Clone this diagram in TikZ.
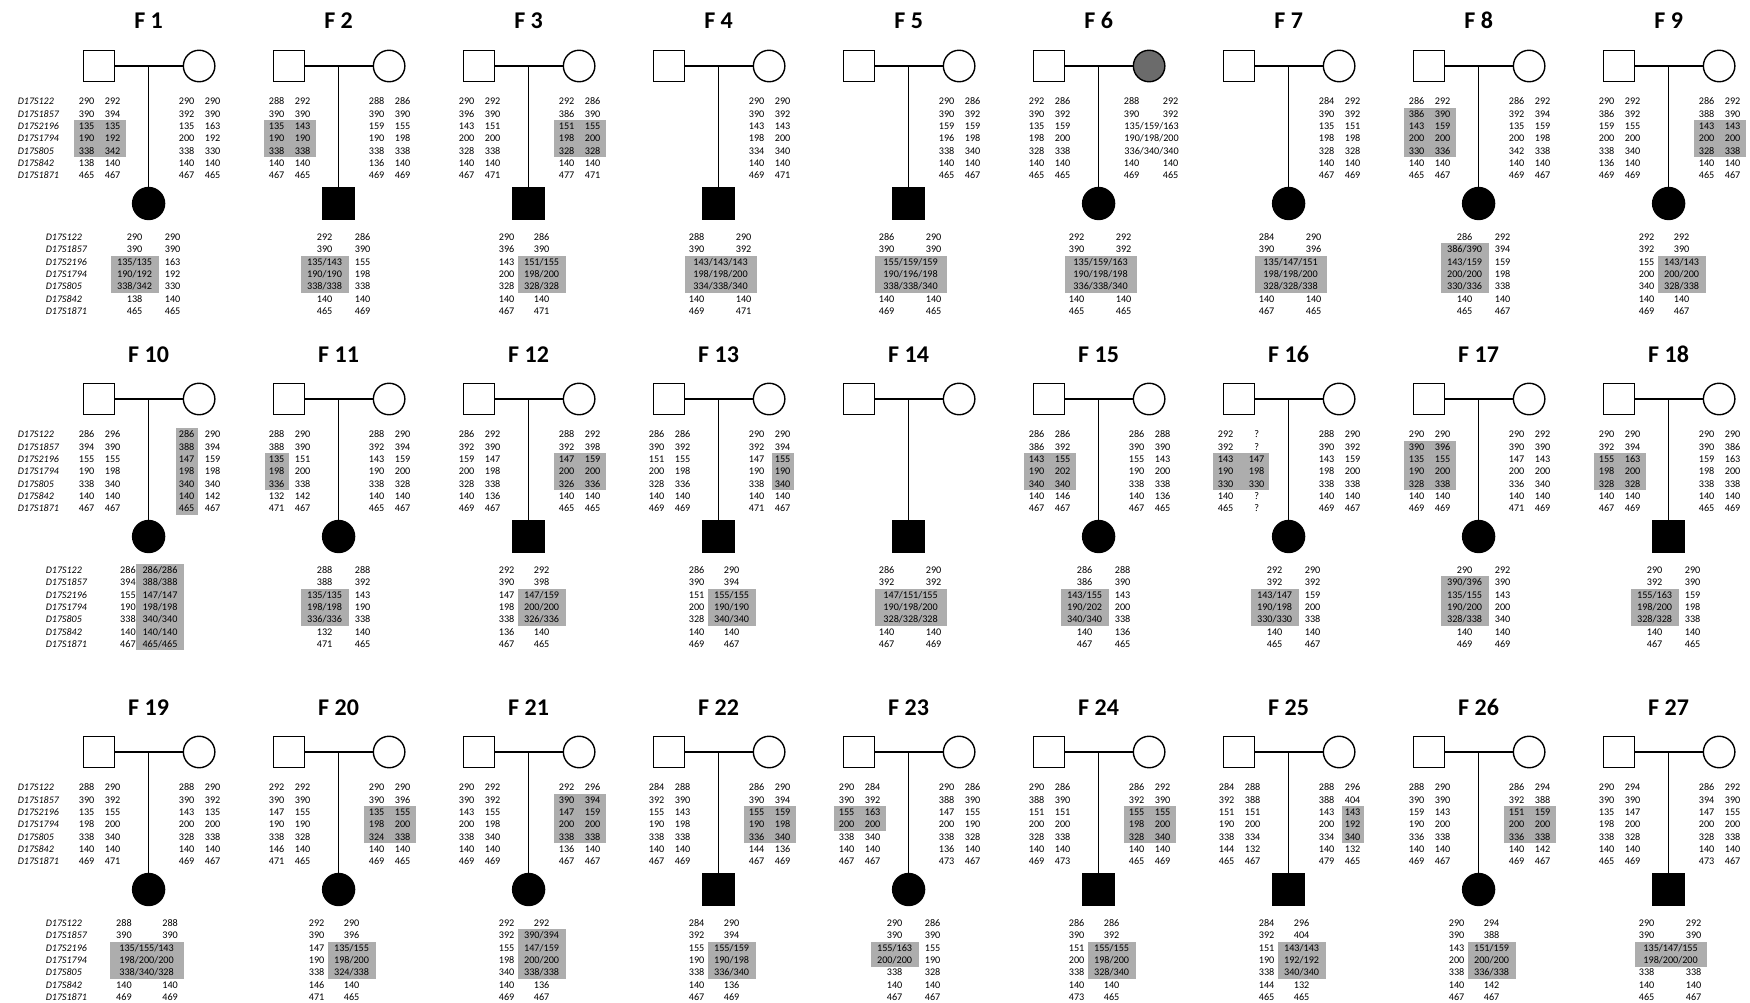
\documentclass[tikz,border=0pt]{standalone}
\usepackage{fontspec}
\setmainfont{Carlito}
\protected\def\slsh{/}
\tikzset{
 num/.style={font=\fontsize{10.2}{11}\selectfont, inner sep=0pt, anchor=center, text height=6.5pt, text depth=0pt},
 lab/.style={font=\fontsize{10}{11}\selectfont\itshape, inner sep=0pt, anchor=west, text height=6.5pt, text depth=0pt},
 ttl/.style={font=\fontsize{24}{28}\selectfont\bfseries, inner sep=0pt, anchor=base},
 fa/.style={draw, rectangle, minimum size=31.5pt, inner sep=0pt, line width=1.4pt},
 mo/.style={draw, circle, minimum size=31.5pt, inner sep=0pt, line width=1.4pt},
 mogray/.style={mo, fill=black!58},
 chsq/.style={fa, fill=black, minimum size=32pt},
 chci/.style={mo, fill=black, minimum size=32pt},
 ln/.style={line width=1.4pt},
 shd/.style={fill=black!32},
}
% generic rows
\newcommand\prow[6]{%
  \foreach \a/\b [count=\k from #5] in {#6}{%
    \node[num] (#1-\k-a) at ({#2},{#4+12.3*(\k-1)}) {\a};
    \node[num] (#1-\k-b) at ({#3},{#4+12.3*(\k-1)}) {\b};
  }}
\newcommand\srow[5]{%
  \foreach \a [count=\k from #4] in {#5}{%
    \node[num] (#1-\k-s) at ({#2},{#3+12.3*(\k-1)}) {\a};
  }}
\newcommand\fdat[4]{\prow{#1-f}{#2-62}{#2-36}{#3+101.7}{1}{#4}}
\newcommand\mdat[4]{\prow{#1-m}{#2+38}{#2+64}{#3+101.7}{1}{#4}}
\newcommand\cA[4]{\prow{#1-c}{#2-14}{#2+24}{#3+237.3}{1}{#4}}
\newcommand\cB[4]{\prow{#1-c}{#2-22}{#2+13}{#3+237.3}{1}{#4}}
\newcommand\cpair[5]{\prow{#1-c}{#2-22}{#2+25}{#3+237.3}{#4}{#5}}
\newcommand\ctrip[5]{\srow{#1-ct}{#2+2}{#3+237.3}{#4}{#5}}
% shades
\newcommand\shd[5]{\fill[shd] ({#1},{#3+12.3*(#4-1)-6.3}) rectangle ({#2},{#3+12.3*(#5-1)+6.3});}
\newcommand\shF[4]{\shd{#1-75}{#1-23}{#2+101.7}{#3}{#4}}
\newcommand\shFa[4]{\shd{#1-74}{#1-50}{#2+101.7}{#3}{#4}}
\newcommand\shM[4]{\shd{#1+25}{#1+77}{#2+101.7}{#3}{#4}}
\newcommand\shMa[4]{\shd{#1+27}{#1+49}{#2+101.7}{#3}{#4}}
\newcommand\shMb[4]{\shd{#1+53}{#1+75}{#2+101.7}{#3}{#4}}
\newcommand\shCa[4]{\shd{#1-38}{#1+10}{#2+237.3}{#3}{#4}}
\newcommand\shCb[4]{\shd{#1-11}{#1+37}{#2+237.3}{#3}{#4}}
\newcommand\shCt[4]{\shd{#1-34}{#1+38}{#2+237.3}{#3}{#4}}
% marker labels
\newcommand\labs[3]{%
  \foreach \m [count=\k] in {D17S122,D17S1857,D17S2196,D17S1794,D17S805,D17S842,D17S1871}{%
    \node[lab] (#1-\k) at ({#2},{#3+12.3*(\k-1)}) {\m};}}
% pedigree frame
\newcommand\pedi[6]{%
  \node[ttl] (#1-t) at ({#2},{#3+29}) {#4};
  \node[fa] (#1-fa) at ({#2-49.6},{#3+66}) {};
  \node[#6] (#1-mo) at ({#2+50.5},{#3+66}) {};
  \coordinate (#1-mid) at ({#2},{#3+66});
  \node[#5] (#1-ch) at ({#2},{#3+203.5}) {};
  \draw[ln] (#1-fa) -- (#1-mo);
  \draw[ln] (#1-mid) -- (#1-ch);}
\begin{document}
\begin{tikzpicture}[x=1pt,y=-1pt]
\fill[white] (0,0) rectangle (1750,1003);
\useasboundingbox (0,0) rectangle (1750,1003);

% ================= ROW 1 =================
% F1
\shF{148.6}{0}{3}{5}\shCa{148.6}{0}{3}{5}
\pedi{f1}{148.6}{0}{F 1}{chci}{mo}
\labs{f1-lf}{148.6-131}{101.7}
\labs{f1-lc}{148.6-103}{237.3}
\fdat{f1}{148.6}{0}{290/292,390/394,135/135,190/192,338/342,138/140,465/467}
\mdat{f1}{148.6}{0}{290/290,392/390,135/163,200/192,338/330,140/140,467/465}
\cA{f1}{148.6}{0}{290/290,390/390,135\slsh135/163,190\slsh192/192,338\slsh342/330,138/140,465/465}

% F2
\shF{338.6}{0}{3}{5}\shCa{338.6}{0}{3}{5}
\pedi{f2}{338.6}{0}{F 2}{chsq}{mo}
\fdat{f2}{338.6}{0}{288/292,390/390,135/143,190/190,338/338,140/140,467/465}
\mdat{f2}{338.6}{0}{288/286,390/390,159/155,190/198,338/338,136/140,469/469}
\cA{f2}{338.6}{0}{292/286,390/390,135\slsh143/155,190\slsh190/198,338\slsh338/338,140/140,465/469}

% F3
\shM{528.6}{0}{3}{5}\shCb{528.6}{0}{3}{5}
\pedi{f3}{528.6}{0}{F 3}{chsq}{mo}
\fdat{f3}{528.6}{0}{290/292,396/390,143/151,200/200,328/338,140/140,467/471}
\mdat{f3}{528.6}{0}{292/286,386/390,151/155,198/200,328/328,140/140,477/471}
\cB{f3}{528.6}{0}{290/286,396/390,143/151\slsh155,200/198\slsh200,328/328\slsh328,140/140,467/471}

% F4
\shCt{718.6}{0}{3}{5}
\pedi{f4}{718.6}{0}{F 4}{chsq}{mo}
\mdat{f4}{718.6}{0}{290/290,390/392,143/143,198/200,334/340,140/140,469/471}
\cpair{f4}{718.6}{0}{1}{288/290,390/392}
\ctrip{f4}{718.6}{0}{3}{143\slsh143\slsh143,198\slsh198\slsh200,334\slsh338\slsh340}
\cpair{f4}{718.6}{0}{6}{140/140,469/471}

% F5
\shCt{908.6}{0}{3}{5}
\pedi{f5}{908.6}{0}{F 5}{chsq}{mo}
\mdat{f5}{908.6}{0}{290/286,390/392,159/159,196/198,338/340,140/140,465/467}
\cpair{f5}{908.6}{0}{1}{286/290,390/390}
\ctrip{f5}{908.6}{0}{3}{155\slsh159\slsh159,190\slsh196\slsh198,338\slsh338\slsh340}
\cpair{f5}{908.6}{0}{6}{140/140,469/465}

% F6
\shCt{1098.6}{0}{3}{5}
\pedi{f6}{1098.6}{0}{F 6}{chci}{mogray}
\fdat{f6}{1098.6}{0}{292/286,390/392,135/159,198/200,328/338,140/140,465/465}
\prow{f6-m}{1098.6+33}{1098.6+72}{101.7}{1}{288/292,390/392}
\srow{f6-mt}{1098.6+53}{101.7}{3}{135\slsh159\slsh163,190\slsh198\slsh200,336\slsh340\slsh340}
\prow{f6-m}{1098.6+33}{1098.6+72}{101.7}{6}{140/140,469/465}
\cpair{f6}{1098.6}{0}{1}{292/292,390/392}
\ctrip{f6}{1098.6}{0}{3}{135\slsh159\slsh163,190\slsh198\slsh198,336\slsh338\slsh340}
\cpair{f6}{1098.6}{0}{6}{140/140,465/465}

% F7
\shCt{1288.6}{0}{3}{5}
\pedi{f7}{1288.6}{0}{F 7}{chci}{mo}
\mdat{f7}{1288.6}{0}{284/292,390/392,135/151,198/198,328/328,140/140,467/469}
\cpair{f7}{1288.6}{0}{1}{284/290,390/396}
\ctrip{f7}{1288.6}{0}{3}{135\slsh147\slsh151,198\slsh198\slsh200,328\slsh328\slsh338}
\cpair{f7}{1288.6}{0}{6}{140/140,467/465}

% F8
\shF{1478.6}{0}{2}{5}\shCa{1478.6}{0}{2}{5}
\pedi{f8}{1478.6}{0}{F 8}{chci}{mo}
\fdat{f8}{1478.6}{0}{286/292,386/390,143/159,200/200,330/336,140/140,465/467}
\mdat{f8}{1478.6}{0}{286/292,392/394,135/159,200/198,342/338,140/140,469/467}
\cA{f8}{1478.6}{0}{286/292,386\slsh390/394,143\slsh159/159,200\slsh200/198,330\slsh336/338,140/140,465/467}

% F9
\shM{1668.6}{0}{3}{5}\shCb{1668.6}{0}{3}{5}
\pedi{f9}{1668.6}{0}{F 9}{chci}{mo}
\fdat{f9}{1668.6}{0}{290/292,386/392,159/155,200/200,338/340,136/140,469/469}
\mdat{f9}{1668.6}{0}{286/292,388/390,143/143,200/200,328/338,140/140,465/467}
\cB{f9}{1668.6}{0}{292/292,392/390,155/143\slsh143,200/200\slsh200,340/328\slsh338,140/140,469/467}

% ================= ROW 2 =================
% F10
\shMa{148.6}{333}{1}{7}\shd{148.6-12.6}{148.6+35}{333+237.3}{1}{7}
\pedi{f10}{148.6}{333}{F 10}{chci}{mo}
\labs{f10-lf}{148.6-131}{333+101.7}
\labs{f10-lc}{148.6-103}{333+237.3}
\fdat{f10}{148.6}{333}{286/296,394/390,155/155,190/198,338/340,140/140,467/467}
\mdat{f10}{148.6}{333}{286/290,388/394,147/159,198/198,340/340,140/142,465/467}
\prow{f10-c}{148.6-20.6}{148.6+11.4}{333+237.3}{1}{286/286\slsh286,394/388\slsh388,155/147\slsh147,190/198\slsh198,338/340\slsh340,140/140\slsh140,467/465\slsh465}

% F11
\shFa{338.6}{333}{3}{5}\shCa{338.6}{333}{3}{5}
\pedi{f11}{338.6}{333}{F 11}{chci}{mo}
\fdat{f11}{338.6}{333}{288/290,388/390,135/151,198/200,336/338,132/142,471/467}
\mdat{f11}{338.6}{333}{288/290,392/394,143/159,190/200,338/328,140/140,465/467}
\cA{f11}{338.6}{333}{288/288,388/392,135\slsh135/143,198\slsh198/190,336\slsh336/338,132/140,471/465}

% F12
\shM{528.6}{333}{3}{5}\shCb{528.6}{333}{3}{5}
\pedi{f12}{528.6}{333}{F 12}{chsq}{mo}
\fdat{f12}{528.6}{333}{286/292,392/390,159/147,200/198,328/338,140/136,469/467}
\mdat{f12}{528.6}{333}{288/292,392/398,147/159,200/200,326/336,140/140,465/465}
\cB{f12}{528.6}{333}{292/292,390/398,147/147\slsh159,198/200\slsh200,338/326\slsh336,136/140,467/465}

% F13
\shMb{718.6}{333}{3}{5}\shCb{718.6}{333}{3}{5}
\pedi{f13}{718.6}{333}{F 13}{chsq}{mo}
\fdat{f13}{718.6}{333}{286/286,390/392,151/155,200/198,328/336,140/140,469/469}
\mdat{f13}{718.6}{333}{290/290,392/394,147/155,190/190,338/340,140/140,471/467}
\cB{f13}{718.6}{333}{286/290,390/394,151/155\slsh155,200/190\slsh190,328/340\slsh340,140/140,469/467}

% F14
\shCt{908.6}{333}{3}{5}
\pedi{f14}{908.6}{333}{F 14}{chsq}{mo}
\cpair{f14}{908.6}{333}{1}{286/290,392/392}
\ctrip{f14}{908.6}{333}{3}{147\slsh151\slsh155,190\slsh198\slsh200,328\slsh328\slsh328}
\cpair{f14}{908.6}{333}{6}{140/140,467/469}

% F15
\shF{1098.6}{333}{3}{5}\shCa{1098.6}{333}{3}{5}
\pedi{f15}{1098.6}{333}{F 15}{chci}{mo}
\fdat{f15}{1098.6}{333}{286/286,386/392,143/155,190/202,340/340,140/146,467/467}
\mdat{f15}{1098.6}{333}{286/288,390/390,155/143,190/200,338/338,140/136,467/465}
\cA{f15}{1098.6}{333}{286/288,386/390,143\slsh155/143,190\slsh202/200,340\slsh340/338,140/136,467/465}

% F16
\shd{1288.6-76}{1288.6-20}{333+101.7}{3}{5}\shCa{1288.6}{333}{3}{5}
\pedi{f16}{1288.6}{333}{F 16}{chci}{mo}
\prow{f16-f}{1288.6-63}{1288.6-32}{333+101.7}{1}{292/?,392/?,143/147,190/198,330/330,140/?,465/?}
\mdat{f16}{1288.6}{333}{288/290,390/392,143/159,198/200,338/338,140/140,469/467}
\cA{f16}{1288.6}{333}{292/290,392/392,143\slsh147/159,190\slsh198/200,330\slsh330/338,140/140,465/467}

% F17
\shF{1478.6}{333}{2}{5}\shCa{1478.6}{333}{2}{5}
\pedi{f17}{1478.6}{333}{F 17}{chci}{mo}
\fdat{f17}{1478.6}{333}{290/290,390/396,135/155,190/200,328/338,140/140,469/469}
\mdat{f17}{1478.6}{333}{290/292,390/390,147/143,200/200,336/340,140/140,471/469}
\cA{f17}{1478.6}{333}{290/292,390\slsh396/390,135\slsh155/143,190\slsh200/200,328\slsh338/340,140/140,469/469}

% F18
\shF{1668.6}{333}{3}{5}\shCa{1668.6}{333}{3}{5}
\pedi{f18}{1668.6}{333}{F 18}{chsq}{mo}
\fdat{f18}{1668.6}{333}{290/290,392/394,155/163,198/200,328/328,140/140,467/469}
\mdat{f18}{1668.6}{333}{290/290,390/386,159/163,198/200,338/338,140/140,465/469}
\cA{f18}{1668.6}{333}{290/290,392/390,155\slsh163/159,198\slsh200/198,328\slsh328/338,140/140,467/465}

% ================= ROW 3 =================
% F19
\shd{148.6-38.6}{148.6+35.7}{686+237.3}{3}{5}
\pedi{f19}{148.6}{686}{F 19}{chci}{mo}
\labs{f19-lf}{148.6-131}{686+101.7}
\labs{f19-lc}{148.6-103}{686+237.3}
\fdat{f19}{148.6}{686}{288/290,390/392,135/155,198/200,338/340,140/140,469/471}
\mdat{f19}{148.6}{686}{288/290,390/392,143/135,200/200,328/338,140/140,469/467}
\prow{f19-c}{148.6-24.6}{148.6+21.5}{686+237.3}{1}{288/288,390/390}
\srow{f19-ct}{148.6-2}{686+237.3}{3}{135\slsh155\slsh143,198\slsh200\slsh200,338\slsh340\slsh328}
\prow{f19-c}{148.6-24.6}{148.6+21.5}{686+237.3}{6}{140/140,469/469}

% F20
\shM{338.6}{686}{3}{5}\shCb{338.6}{686}{3}{5}
\pedi{f20}{338.6}{686}{F 20}{chci}{mo}
\fdat{f20}{338.6}{686}{292/292,390/390,147/155,190/190,338/328,146/140,471/465}
\mdat{f20}{338.6}{686}{290/290,390/396,135/155,198/200,324/338,140/140,469/465}
\cB{f20}{338.6}{686}{292/290,390/396,147/135\slsh155,190/198\slsh200,338/324\slsh338,146/140,471/465}

% F21
\shM{528.6}{686}{2}{5}\shCb{528.6}{686}{2}{5}
\pedi{f21}{528.6}{686}{F 21}{chci}{mo}
\fdat{f21}{528.6}{686}{290/292,390/392,143/155,200/198,338/340,140/140,469/469}
\mdat{f21}{528.6}{686}{292/296,390/394,147/159,200/200,338/338,136/140,467/467}
\cB{f21}{528.6}{686}{292/292,392/390\slsh394,155/147\slsh159,198/200\slsh200,340/338\slsh338,140/136,469/467}

% F22
\shM{718.6}{686}{3}{5}\shCb{718.6}{686}{3}{5}
\pedi{f22}{718.6}{686}{F 22}{chsq}{mo}
\fdat{f22}{718.6}{686}{284/288,392/390,155/143,190/198,338/338,140/140,467/469}
\mdat{f22}{718.6}{686}{286/290,390/394,155/159,190/198,336/340,144/136,467/469}
\cB{f22}{718.6}{686}{284/290,392/394,155/155\slsh159,190/190\slsh198,338/336\slsh340,140/136,467/469}

% F23
\shF{908.6}{686}{3}{4}\shCa{908.6}{686}{3}{4}
\pedi{f23}{908.6}{686}{F 23}{chci}{mo}
\fdat{f23}{908.6}{686}{290/284,390/392,155/163,200/200,338/340,140/140,467/467}
\mdat{f23}{908.6}{686}{290/286,388/390,147/155,200/190,338/328,136/140,473/467}
\cA{f23}{908.6}{686}{290/286,390/390,155\slsh163/155,200\slsh200/190,338/328,140/140,467/467}

% F24
\shM{1098.6}{686}{3}{5}\shCb{1098.6}{686}{3}{5}
\pedi{f24}{1098.6}{686}{F 24}{chsq}{mo}
\fdat{f24}{1098.6}{686}{290/286,388/390,151/151,200/200,328/338,140/140,469/473}
\mdat{f24}{1098.6}{686}{286/292,392/390,155/155,198/200,328/340,140/140,465/469}
\cB{f24}{1098.6}{686}{286/286,390/392,151/155\slsh155,200/198\slsh200,338/328\slsh340,140/140,473/465}

% F25
\shMb{1288.6}{686}{3}{5}\shCb{1288.6}{686}{3}{5}
\pedi{f25}{1288.6}{686}{F 25}{chsq}{mo}
\fdat{f25}{1288.6}{686}{284/288,392/388,151/151,190/200,338/334,144/132,465/467}
\mdat{f25}{1288.6}{686}{288/296,388/404,143/143,200/192,334/340,140/132,479/465}
\cB{f25}{1288.6}{686}{284/296,392/404,151/143\slsh143,190/192\slsh192,338/340\slsh340,144/132,465/465}

% F26
\shM{1478.6}{686}{3}{5}\shCb{1478.6}{686}{3}{5}
\pedi{f26}{1478.6}{686}{F 26}{chci}{mo}
\fdat{f26}{1478.6}{686}{288/290,390/390,159/143,190/200,336/338,140/140,469/467}
\mdat{f26}{1478.6}{686}{286/294,392/388,151/159,200/200,336/338,140/142,469/467}
\cB{f26}{1478.6}{686}{290/294,390/388,143/151\slsh159,200/200\slsh200,338/336\slsh338,140/142,467/467}

% F27
\shCt{1668.6}{686}{3}{4}
\pedi{f27}{1668.6}{686}{F 27}{chsq}{mo}
\fdat{f27}{1668.6}{686}{290/294,390/390,135/147,198/200,338/328,140/140,465/469}
\mdat{f27}{1668.6}{686}{286/292,394/390,147/155,200/200,328/338,140/140,473/467}
\cpair{f27}{1668.6}{686}{1}{290/292,390/390}
\ctrip{f27}{1668.6}{686}{3}{135\slsh147\slsh155,198\slsh200\slsh200}
\cpair{f27}{1668.6}{686}{5}{338/338,140/140,465/467}
\end{tikzpicture}
\end{document}
